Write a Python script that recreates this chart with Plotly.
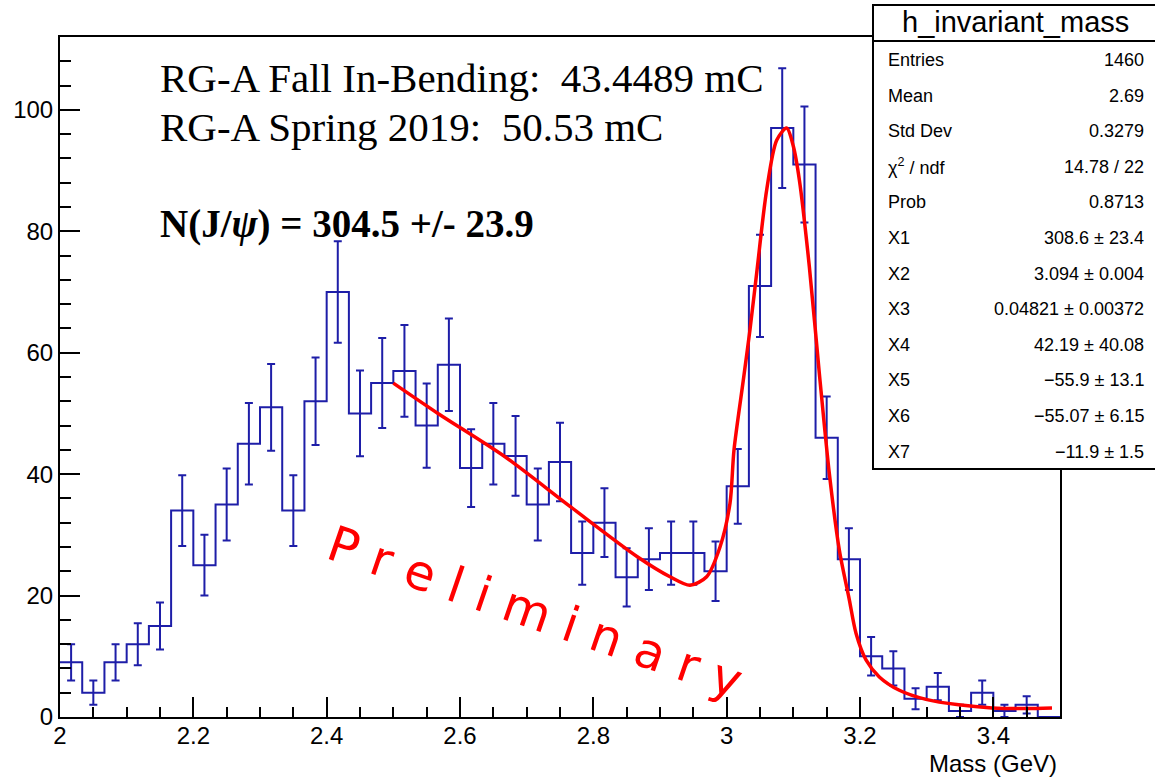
import numpy as np
import plotly.graph_objects as go

# ---------------- data ----------------
bin_lo, bin_hi, n_bins = 2.0, 3.5, 45
counts = [9, 4, 9, 12, 15, 34, 25, 35, 45, 51, 34, 52, 70, 50, 55, 57, 48, 58, 41, 45,
          43, 35, 42, 27, 32, 23, 26, 27, 27, 24, 38, 71, 97, 91, 46, 26, 10, 8, 3, 5,
          1, 4, 1, 2, 0]
errors = [3.00, 2.00, 3.00, 3.46, 3.87, 5.83, 5.00, 5.92, 6.71, 7.14, 5.83, 7.21, 8.37, 7.07,
          7.42, 7.55, 6.93, 7.62, 6.40, 6.71, 6.56, 5.92, 6.48, 5.20, 5.66, 4.80, 5.10, 5.20,
          5.20, 4.90, 6.16, 8.43, 9.85, 9.54, 6.78, 5.10, 3.16, 2.83, 1.73, 2.24, 1.00, 2.00,
          1.00, 1.41, 0.00]

fit_x = [2.500, 2.567, 2.667, 2.766, 2.866, 2.915, 2.945, 2.970, 2.990, 3.005, 3.011, 3.025,
         3.035, 3.045, 3.060, 3.075, 3.090, 3.100, 3.109, 3.124, 3.139, 3.154, 3.169, 3.184,
         3.194, 3.209, 3.229, 3.259, 3.299, 3.348, 3.398, 3.448, 3.488]
fit_y = [55.0, 50.0, 42.9, 34.6, 26.4, 23.1, 21.7, 23.1, 28.0, 35.2, 44.0, 55.5,
         63.8, 73.1, 86.8, 95.0, 97.0, 94.0, 88.5, 74.2, 56.6, 40.1, 27.5, 19.3,
         13.8, 9.4, 6.6, 4.4, 2.9, 2.0, 1.5, 1.4, 1.5]

stat_title = "h_invariant_mass"
stat_labels = ["Entries", "Mean", "Std Dev", "χ<sup>2</sup> / ndf", "Prob",
               "X1", "X2", "X3", "X4", "X5", "X6", "X7"]
stat_values = ["1460", "2.69", "0.3279", "14.78 / 22", "0.8713",
               "308.6 ± 23.4", "3.094 ± 0.004", "0.04821 ± 0.00372", "42.19 ± 40.08",
               "−55.9 ± 13.1", "−55.07 ± 6.15", "−11.9 ± 1.5"]

info_lines = ["RG-A Fall In-Bending:\u00a0 43.4489 mC",
              "RG-A Spring 2019:\u00a0 50.53 mC",
              "<b>N(J/<i>ψ</i>) = 304.5 +/- 23.9</b>"]
watermark = "P r e l i m i n a r y"
x_title = "Mass (GeV)"

# ---------------- layout geometry ----------------
W, H = 1155, 779
L, R, T, B = 60, 95, 37, 62
PW, PH = W - L - R, H - T - B


def px(x):
    return (x - L) / PW


def py(y):
    return (H - B - y) / PH


edges = np.linspace(bin_lo, bin_hi, n_bins + 1)
centers = 0.5 * (edges[:-1] + edges[1:])
step_y = list(counts) + [counts[-1]]

BLUE = "#1e1ea8"
RED = "#ff0000"

fig = go.Figure()
fig.add_trace(go.Scatter(x=edges, y=step_y, mode="lines", line=dict(color=BLUE, width=2, shape="hv"),
                         showlegend=False, hoverinfo="skip"))
fig.add_trace(go.Scatter(x=centers, y=counts, mode="markers", marker=dict(size=1, color=BLUE),
                         error_y=dict(type="data", array=errors, visible=True, color=BLUE,
                                      thickness=2, width=4),
                         showlegend=False))
fig.add_trace(go.Scatter(x=fit_x, y=fit_y, mode="lines",
                         line=dict(color=RED, width=3.5, shape="spline", smoothing=0.8),
                         showlegend=False))

axis_font = dict(family="Liberation Sans, Arial, sans-serif", size=24, color="black")

fig.update_xaxes(range=[bin_lo, bin_hi], tick0=2, dtick=0.2, ticks="inside", ticklen=20,
                 tickwidth=1.5, tickcolor="black", showline=True, linecolor="black", linewidth=2,
                 mirror=True, showgrid=False, zeroline=False, tickfont=axis_font,
                 ticklabelstandoff=-4,
                 minor=dict(dtick=0.05, ticks="inside", ticklen=10, tickwidth=1.5, tickcolor="black"))
fig.update_yaxes(range=[0, 112], tick0=0, dtick=20, ticks="inside", ticklen=20,
                 tickwidth=1.5, tickcolor="black", showline=True, linecolor="black", linewidth=2,
                 mirror=True, showgrid=False, zeroline=False, tickfont=axis_font,
                 minor=dict(dtick=4, ticks="inside", ticklen=11, tickwidth=1.5, tickcolor="black"))

shapes = []
# stats box
box_l, box_t, box_b, box_r, head_b = 873, 5, 469, 1175, 41
shapes.append(dict(type="rect", xref="paper", yref="paper", x0=px(box_l), x1=px(box_r),
                   y0=py(box_b), y1=py(box_t), line=dict(color="black", width=2),
                   fillcolor="white", layer="above"))
shapes.append(dict(type="line", xref="paper", yref="paper", x0=px(box_l), x1=px(box_r),
                   y0=py(head_b), y1=py(head_b), line=dict(color="black", width=2), layer="above"))

annotations = []
stat_font = dict(family="Liberation Sans, Arial, sans-serif", size=18, color="black")
annotations.append(dict(xref="paper", yref="paper", x=px(1015), y=py(22), text=stat_title,
                        showarrow=False, xanchor="center", yanchor="middle",
                        font=dict(family="Liberation Sans, Arial, sans-serif", size=29, color="black")))
for i, (lab, val) in enumerate(zip(stat_labels, stat_values)):
    yy = 60 + i * 35.6
    annotations.append(dict(xref="paper", yref="paper", x=px(886), y=py(yy), text=lab,
                            showarrow=False, xanchor="left", yanchor="middle", font=stat_font))
    annotations.append(dict(xref="paper", yref="paper", x=px(1146), y=py(yy), text=val,
                            showarrow=False, xanchor="right", yanchor="middle", font=stat_font))

serif = "Liberation Serif, Times New Roman, serif"
for txt, yc, size in zip(info_lines, [78, 127, 224], [41, 41, 39]):
    annotations.append(dict(xref="paper", yref="paper", x=px(158), y=py(yc), text=txt,
                            showarrow=False, xanchor="left", yanchor="middle",
                            font=dict(family=serif, size=size, color="black")))

annotations.append(dict(xref="paper", yref="paper", x=px(535), y=py(612), text=watermark,
                        showarrow=False, xanchor="center", yanchor="middle", textangle=19,
                        font=dict(family="DejaVu Sans, sans-serif", size=49, color=RED)))

annotations.append(dict(xref="paper", yref="paper", x=px(1059), y=py(763), text=x_title,
                        showarrow=False, xanchor="right", yanchor="middle", font=axis_font))

fig.update_layout(width=W, height=H, margin=dict(l=L, r=R, t=T, b=B, autoexpand=False),
                  plot_bgcolor="white", paper_bgcolor="white", shapes=shapes,
                  annotations=annotations, showlegend=False)

fig.write_html("out.html")
